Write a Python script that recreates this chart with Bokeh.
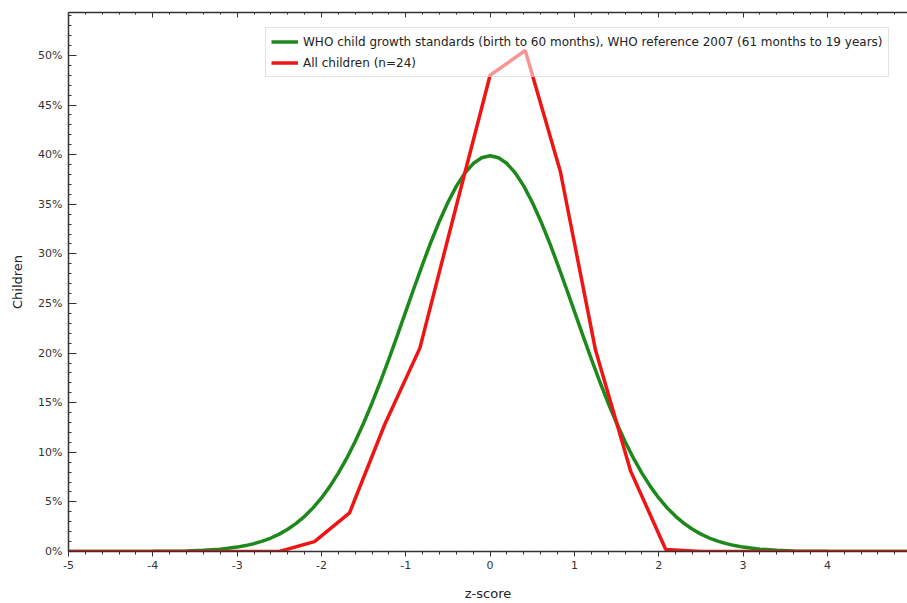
from bokeh.plotting import figure
from bokeh.models import (Range1d, LinearAxis, SingleIntervalTicker, PrintfTickFormatter,
                          CustomJSTickFormatter, Legend, LegendItem)
from bokeh.embed import file_html
from bokeh.resources import INLINE

# WHO reference curve (percent of children by z-score)
who_z = [-5.0, -4.0, -3.8, -3.6, -3.4, -3.2, -3.0, -2.9, -2.8, -2.7, -2.6, -2.5, -2.4, -2.3, -2.2, -2.1,
         -2.0, -1.9, -1.8, -1.7, -1.6, -1.5, -1.4, -1.3, -1.2, -1.1, -1.0, -0.9, -0.8, -0.7, -0.6,
         -0.5, -0.4, -0.3, -0.2, -0.1, 0.0, 0.1, 0.2, 0.3, 0.4, 0.5, 0.6, 0.7, 0.8, 0.9, 1.0,
         1.1, 1.2, 1.3, 1.4, 1.5, 1.6, 1.7, 1.8, 1.9, 2.0, 2.1, 2.2, 2.3, 2.4, 2.5, 2.6, 2.7,
         2.8, 2.9, 3.0, 3.2, 3.4, 3.6, 3.8, 4.0, 5.0]
who_pct = [0.0, 0.013, 0.029, 0.061, 0.123, 0.238, 0.443, 0.595, 0.792, 1.042, 1.358, 1.753, 2.239, 2.833, 3.547, 4.398,
           5.399, 6.562, 7.895, 9.405, 11.092, 12.952, 14.973, 17.137, 19.419, 21.785, 24.197, 26.609, 28.969, 31.225, 33.322,
           35.207, 36.827, 38.139, 39.104, 39.695, 39.894, 39.695, 39.104, 38.139, 36.827, 35.207, 33.322, 31.225, 28.969, 26.609, 24.197,
           21.785, 19.419, 17.137, 14.973, 12.952, 11.092, 9.405, 7.895, 6.562, 5.399, 4.398, 3.547, 2.833, 2.239, 1.753, 1.358, 1.042,
           0.792, 0.595, 0.443, 0.238, 0.123, 0.061, 0.029, 0.013, 0.0]

# All children (n=24)
kids_z = [-5.0, -2.5, -2.083, -1.667, -1.25, -0.833, -0.417, 0.0, 0.417, 0.833, 1.25, 1.667, 2.083, 2.5, 5.0]
kids_pct = [0.0, 0.0, 1.0, 3.9, 12.8, 20.5, 34.3, 48.0, 50.5, 38.3, 20.3, 8.1, 0.2, 0.0, 0.0]

x_ticks_interval = 1
y_ticks_interval = 5

FONT = "DejaVu Sans"
GREEN = "#1d891d"
RED = "#ee1515"
AX = "#333333"

p = figure(width=907, height=603, output_backend="svg", toolbar_location=None,
           x_range=Range1d(-5, 4.95), y_range=Range1d(0, 54.33),
           x_axis_location=None, y_axis_location=None,
           min_border_left=68, min_border_right=0, min_border_top=12, min_border_bottom=52)
p.grid.visible = False
p.outline_line_color = None
p.background_fill_color = "white"
p.border_fill_color = "white"

g = p.line(who_z, who_pct, line_color=GREEN, line_width=3.5)
r = p.line(kids_z, kids_pct, line_color=RED, line_width=3.5)


def style(ax):
    ax.major_label_text_font = FONT
    ax.major_label_text_font_size = "11px"
    ax.major_label_text_color = AX
    ax.axis_label_text_font = FONT
    ax.axis_label_text_font_size = "13px"
    ax.axis_label_text_font_style = "normal"
    ax.axis_label_text_color = "#222222"
    ax.axis_line_color = AX
    ax.major_tick_line_color = AX
    ax.minor_tick_line_color = AX
    ax.axis_line_width = 1.5


# axes
yax = LinearAxis(ticker=SingleIntervalTicker(interval=y_ticks_interval, num_minor_ticks=5),
                 formatter=PrintfTickFormatter(format="%d%%"), axis_label="Children")
style(yax)
yax.major_tick_in = 8
yax.major_tick_out = 0
yax.minor_tick_in = 3
yax.minor_tick_out = 0
yax.major_label_standoff = 6
yax.axis_label_standoff = 10
p.add_layout(yax, "left")

xax = LinearAxis(ticker=SingleIntervalTicker(interval=x_ticks_interval, num_minor_ticks=5),
                 formatter=PrintfTickFormatter(format="%d"), axis_label="z-score")
style(xax)
xax.major_tick_in = 0
xax.major_tick_out = 5
xax.minor_tick_in = 0
xax.minor_tick_out = 3
xax.major_label_standoff = 4
xax.axis_label_standoff = 14
p.add_layout(xax, "below")

tax = LinearAxis(ticker=SingleIntervalTicker(interval=x_ticks_interval, num_minor_ticks=5),
                 formatter=CustomJSTickFormatter(code="return ''"))
style(tax)
tax.major_tick_in = 5
tax.major_tick_out = 0
tax.minor_tick_in = 2
tax.minor_tick_out = 0
tax.major_label_standoff = 0
p.add_layout(tax, "above")

legend = Legend(items=[
    LegendItem(label="WHO child growth standards (birth to 60 months), WHO reference 2007 (61 months to 19 years)", renderers=[g]),
    LegendItem(label="All children (n=24)", renderers=[r]),
], location=(197, 474))
legend.margin = 0
legend.padding = 5
legend.spacing = 4
legend.glyph_width = 27
legend.glyph_height = 17
legend.label_standoff = 5
legend.label_text_font = FONT
legend.label_text_font_size = "12px"
legend.label_text_color = "#222222"
legend.border_line_color = "#c8c8c8"
legend.border_line_width = 1
legend.background_fill_color = "white"
legend.background_fill_alpha = 0.55
p.add_layout(legend, "center")

open("out.html", "w").write(file_html(p, INLINE))
